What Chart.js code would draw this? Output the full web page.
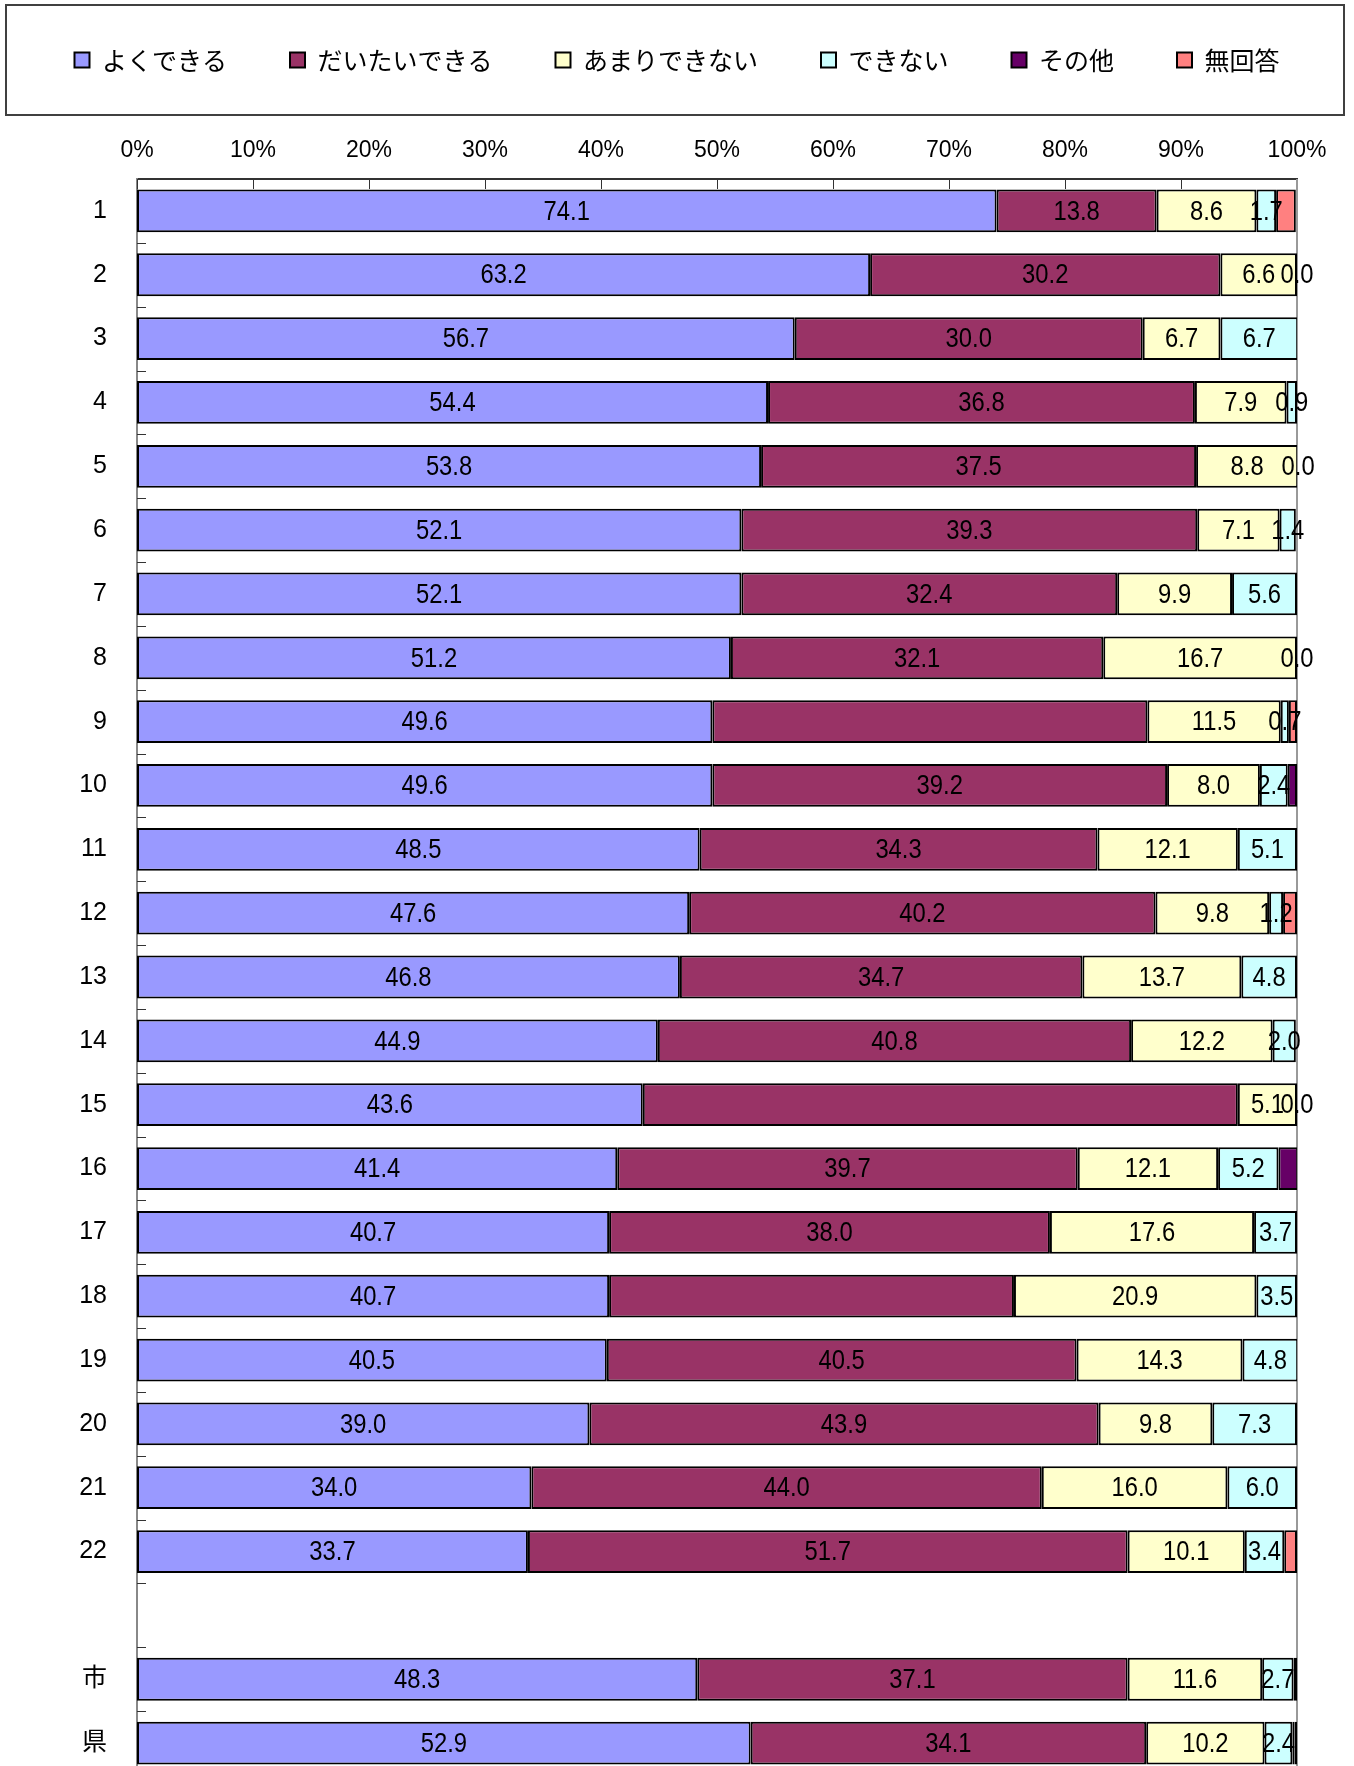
<!DOCTYPE html>
<html>
<head>
<meta charset="utf-8">
<script src="https://cdn.jsdelivr.net/npm/chart.js@4.4.1/dist/chart.umd.min.js"></script>
<style>
  html, body { margin: 0; padding: 0; background: #fff; overflow: hidden; }
</style>
</head>
<body>
<canvas id="myChart" width="1354" height="1780"></canvas>
<script>
// categories (blank row between 22 and 市)
var categories = ['1', '2', '3', '4', '5', '6', '7', '8', '9', '10', '11', '12', '13', '14', '15',
  '16', '17', '18', '19', '20', '21', '22', '', '市', '県'];
var seriesNames = ['よくできる', 'だいたいできる', 'あまりできない', 'できない', 'その他', '無回答'];
var colorHex = ['#9999FF', '#993366', '#FFFFCC', '#CCFFFF', '#660066', '#FF8080'];

var yokuDekiru = [74.1, 63.2, 56.7, 54.4, 53.8, 52.1, 52.1, 51.2, 49.6, 49.6, 48.5, 47.6, 46.8, 44.9, 43.6,
  41.4, 40.7, 40.7, 40.5, 39.0, 34.0, 33.7, null, 48.3, 52.9];
var daitaiDekiru = [13.8, 30.2, 30.0, 36.8, 37.5, 39.3, 32.4, 32.1, 37.5, 39.2, 34.3, 40.2, 34.7, 40.8, 51.3,
  39.7, 38.0, 34.9, 40.5, 43.9, 44.0, 51.7, null, 37.1, 34.1];
var amariDekinai = [8.6, 6.6, 6.7, 7.9, 8.8, 7.1, 9.9, 16.7, 11.5, 8.0, 12.1, 9.8, 13.7, 12.2, 5.1,
  12.1, 17.6, 20.9, 14.3, 9.8, 16.0, 10.1, null, 11.6, 10.2];
var dekinai = [1.7, 0.0, 6.7, 0.9, 0.0, 1.4, 5.6, 0.0, 0.7, 2.4, 5.1, 1.2, 4.8, 2.0, 0.0,
  5.2, 3.7, 3.5, 4.8, 7.3, 6.0, 3.4, null, 2.7, 2.4];
var sonota = [0, 0, 0, 0, 0, 0, 0, 0, 0, 0.8, 0, 0, 0, 0, 0,
  1.7, 0, 0, 0, 0, 0, 0, null, 0.3, 0.2];
var muKaito = [1.7, 0, 0, 0, 0, 0, 0, 0, 0.7, 0, 0, 1.2, 0, 0, 0,
  0, 0, 0, 0, 0, 0, 1.1, null, 0, 0.2];

// rows where the だいたいできる value has no label in the original
var noLabelRows = ['9', '15', '18'];
var xTicks = [0, 10, 20, 30, 40, 50, 60, 70, 80, 90, 100];

var numFont = "'Liberation Sans', 'Noto Sans CJK JP', sans-serif";
var jpFont = "'Noto Sans CJK JP', sans-serif";

var allSeries = [yokuDekiru, daitaiDekiru, amariDekinai, dekinai, sonota, muKaito];

// frame round legend, inside tick marks, and value labels
var extras = {
  id: 'extras',
  beforeDraw: function (chart) {
    var c = chart.ctx;
    c.save();
    c.fillStyle = '#fff';
    c.fillRect(0, 0, chart.width, chart.height);
    c.strokeStyle = '#404040';
    c.lineWidth = 2;
    c.strokeRect(6, 5, 1338, 110);
    c.restore();
  },
  beforeDatasetsDraw: function (chart) {
    var c = chart.ctx, a = chart.chartArea, xs = chart.scales.x, ys = chart.scales.y;
    c.save();
    c.strokeStyle = '#333';
    c.lineWidth = 1;
    c.beginPath();
    xTicks.forEach(function (v) {
      var px = Math.round(xs.getPixelForValue(v)) + 0.5;
      c.moveTo(px, a.top);
      c.lineTo(px, a.top + 10);
    });
    var step = ys.getPixelForValue(1) - ys.getPixelForValue(0);
    for (var i = 1; i < categories.length; i++) {
      var py = Math.round(ys.getPixelForValue(i) - step / 2) + 0.5;
      c.moveTo(a.left, py);
      c.lineTo(a.left + 9, py);
    }
    c.stroke();
    c.strokeStyle = '#999';
    c.lineWidth = 2;
    c.beginPath();
    c.moveTo(a.right, a.top);
    c.lineTo(a.right, a.bottom);
    c.stroke();
    c.restore();
  },
  afterDatasetsDraw: function (chart) {
    var c = chart.ctx;
    c.save();
    c.fillStyle = '#000';
    c.font = '28px ' + numFont;
    c.textAlign = 'center';
    c.textBaseline = 'middle';
    for (var d = 0; d < 4; d++) {
      var meta = chart.getDatasetMeta(d);
      meta.data.forEach(function (bar, i) {
        var v = allSeries[d][i];
        if (v == null) return;
        if (d === 1 && noLabelRows.indexOf(categories[i]) >= 0) return;
        var p = bar.getProps(['x', 'base', 'y'], true);
        // narrow the glyphs a little, like the condensed font of the original
        c.save();
        c.translate((p.x + p.base) / 2, p.y + 1);
        c.scale(0.85, 1);
        c.fillText(v.toFixed(1), 0, 0);
        c.restore();
      });
    }
    c.restore();
  }
};

var ctx = document.getElementById('myChart').getContext('2d');
var myChart = new Chart(ctx, {
  type: 'bar',
  data: {
    labels: categories,
    datasets: allSeries.map(function (s, i) {
      return {
        label: seriesNames[i],
        data: s,
        backgroundColor: colorHex[i],
        borderColor: '#000',
        borderWidth: 2,
        borderSkipped: false,
        barPercentage: 0.67,
        categoryPercentage: 1.0
      };
    })
  },
  options: {
    indexAxis: 'y',
    responsive: false,
    animation: false,
    devicePixelRatio: 1,
    layout: { padding: { top: -15.5, left: 0, right: 0, bottom: 5 } },
    plugins: {
      tooltip: { enabled: false },
      legend: {
        position: 'top',
        labels: {
          font: { family: jpFont, size: 25 },
          color: '#000',
          boxWidth: 15,
          boxHeight: 15,
          padding: 63
        }
      }
    },
    scales: {
      x: {
        position: 'top',
        stacked: true,
        min: 0,
        max: 100,
        grid: { display: false, drawTicks: false },
        border: { display: true, color: '#333', width: 2 },
        ticks: {
          stepSize: 10,
          padding: 15,
          color: '#000',
          font: { family: numFont, size: 23 },
          callback: function (v) { return v + '%'; }
        },
        afterFit: function (s) { s.height = 96.5; }
      },
      y: {
        stacked: true,
        grid: { display: false, drawTicks: false },
        border: { display: true, color: '#888', width: 2 },
        ticks: {
          padding: 30,
          color: '#000',
          font: { family: numFont, size: 25 }
        },
        afterFit: function (s) {
          s.width = 137;
          s.paddingTop = 0;
          s.paddingBottom = 0;
        }
      },
      right: {
        type: 'linear',
        position: 'right',
        display: true,
        grid: { display: false, drawTicks: false },
        border: { display: false },
        ticks: { display: false },
        afterFit: function (s) { s.width = 57; }
      }
    }
  },
  plugins: [extras]
});
</script>
</body>
</html>
